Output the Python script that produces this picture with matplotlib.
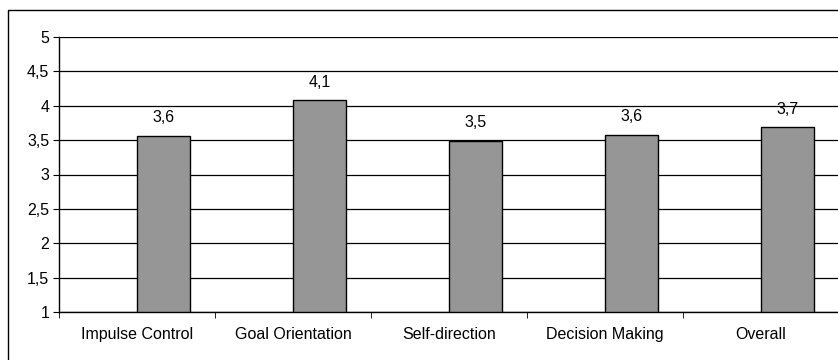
import matplotlib.pyplot as plt
from matplotlib.patches import Rectangle
import numpy as np

plt.rcParams['font.family'] = ['Liberation Sans', 'DejaVu Sans']

categories = ["Impulse Control", "Goal Orientation", "Self-direction", "Decision Making", "Overall"]
scores = [3.565, 4.08, 3.49, 3.58, 3.69]
y_ticks = [1, 1.5, 2, 2.5, 3, 3.5, 4, 4.5, 5]
y_labels = ["1", "1,5", "2", "2,5", "3", "3,5", "4", "4,5", "5"]

W, H = 838, 360
fig = plt.figure(figsize=(W / 100, H / 100), dpi=100)
fig.patch.set_facecolor('white')

# outer chart frame (cut off on the right and bottom in the original)
fig.patches.append(Rectangle((8 / W, -0.05), 1.2, 1 - 10 / H + 0.05,
                             transform=fig.transFigure, fill=False,
                             edgecolor='black', linewidth=1.0))

ax = fig.add_axes([59 / W, 1 - 312 / H, 780 / W, 275 / H])
x = np.arange(len(categories))
bar_w = 53 / 156
ax.bar(x, [s - 1 for s in scores], bottom=1, width=bar_w, align='edge',
       color='#969696', edgecolor='black', linewidth=1.0, zorder=3)

for xi, s in zip(x, scores):
    ax.annotate(f"{s:.1f}".replace('.', ','), (xi + bar_w / 2, s),
                xytext=(0, 13), textcoords='offset points',
                ha='center', va='center', fontsize=11.5)

ax.set_xlim(-0.5, len(categories) - 0.5)
ax.set_ylim(1, 5)
ax.set_yticks(y_ticks)
ax.set_yticklabels(y_labels, fontsize=11.5)
ax.yaxis.grid(True, color='black', linewidth=0.9, zorder=0)
ax.set_axisbelow(True)

ax.set_xticks(x)
ax.set_xticklabels(categories, fontsize=11.5)
ax.tick_params(axis='x', length=0, pad=11)
ax.set_xticks(np.arange(-0.5, len(categories)), minor=True)
ax.tick_params(axis='x', which='minor', length=4, direction='out', color='black')
ax.tick_params(axis='y', length=4, direction='out', pad=3)

for side in ['top', 'right']:
    ax.spines[side].set_visible(False)
ax.spines['left'].set_linewidth(1.0)
ax.spines['bottom'].set_linewidth(1.0)

fig.savefig('out.png', dpi=100)
